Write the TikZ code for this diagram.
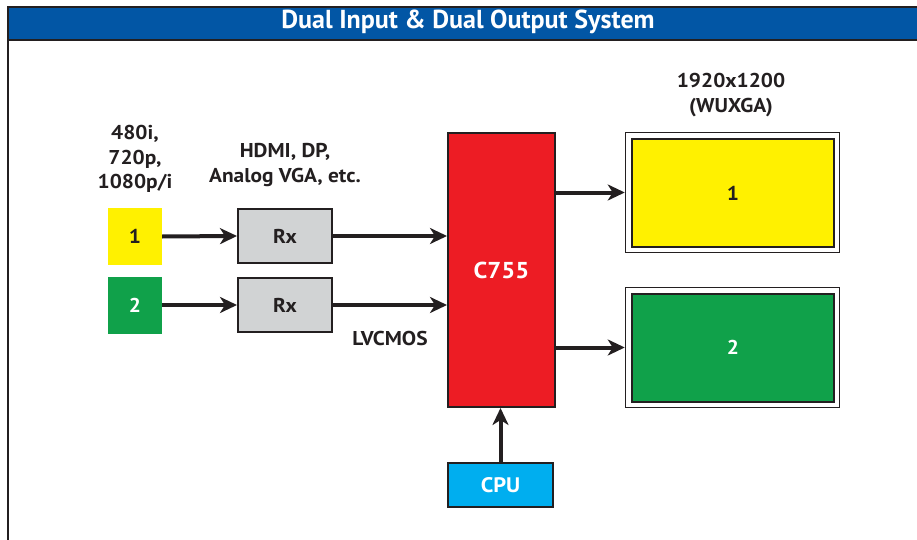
\documentclass[tikz,border=0pt]{standalone}
\usepackage{fontspec}
\setmainfont{PT Sans}
\newfontfamily\widefont[FakeStretch=1.07]{PT Sans}
\usetikzlibrary{arrows.meta}
\definecolor{ink}{HTML}{231F20}
\definecolor{titleblue}{HTML}{0256A5}
\definecolor{chipred}{HTML}{ED1C24}
\definecolor{srcyellow}{HTML}{FFF100}
\definecolor{srcgreen}{HTML}{10A14A}
\definecolor{cpucyan}{HTML}{00AEEF}
\definecolor{rxgray}{HTML}{D1D3D4}
\tikzset{
  lbl/.style={text=ink, font=\widefont\bfseries\fontsize{20}{24.5}\selectfont, align=center, inner sep=0pt},
  srcbox/.style={minimum width=54pt, minimum height=57pt, inner sep=0pt, font=\widefont\bfseries\fontsize{20}{22}\selectfont},
  rxbox/.style={draw=ink, line width=2pt, fill=rxgray, minimum width=94pt, minimum height=54pt, inner sep=0pt, text=ink, font=\widefont\bfseries\fontsize{20}{22}\selectfont},
  monout/.style={draw=ink, line width=1.5pt, fill=white, minimum width=214pt, minimum height=120pt, inner sep=0pt},
  monin/.style={draw=ink, line width=2pt, minimum width=202pt, minimum height=108pt, inner sep=0pt, font=\widefont\bfseries\fontsize{20}{22}\selectfont},
  flow/.style={draw=ink, line width=4pt, -{Stealth[length=17pt, width=16pt, inset=5pt]}},
}
\begin{document}
\begin{tikzpicture}[x=1pt, y=-1pt]
\useasboundingbox (0,0) rectangle (917,540);
\begin{scope}
\clip (0,0) rectangle (917,540);
\fill[titleblue] (8,7) rectangle (940,40);
\draw[ink, line width=2pt] (8,560) -- (8,7) -- (940,7);
\draw[ink, line width=2.5pt] (8,40) -- (940,40);
\end{scope}
\node[text=white, font=\bfseries\fontsize{26}{30}\selectfont, inner sep=0pt] (title) at (468,22) {Dual Input \& Dual Output System};

\node[srcbox, fill=srcyellow, text=ink] (src1) at (135,236.5) {1};
\node[srcbox, fill=srcgreen, text=white] (src2) at (135,305) {2};
\node[lbl] (fmt) at (135,159) {480i,\\720p,\\1080p/i};

\node[rxbox] (rx1) at (285,236) {Rx};
\node[rxbox] (rx2) at (285,305) {Rx};
\node[lbl] (ifc) at (285,165) {HDMI, DP,\\Analog VGA, etc.};

\node[draw=ink, line width=2pt, fill=chipred, minimum width=107pt, minimum height=274pt, inner sep=0pt, text=white, font=\widefont\bfseries\fontsize{23}{26}\selectfont] (chip) at (501.5,270) {C755};
\node[lbl] (bus) at (390,338.5) {LVCMOS};

\node[monout] (mon1o) at (732.5,192.5) {};
\node[monin, fill=srcyellow, text=ink] (mon1) at (733,193) {1};
\node[monout] (mon2o) at (732.5,347.5) {};
\node[monin, fill=srcgreen, text=white] (mon2) at (733,347.5) {2};
\node[lbl] (res) at (731,95) {1920x1200\\(WUXGA)};

\node[draw=ink, line width=2pt, fill=cpucyan, minimum width=105pt, minimum height=44pt, inner sep=0pt, text=white, font=\widefont\bfseries\fontsize{21}{24}\selectfont] (cpu) at (500.5,485) {CPU};

\draw[flow] (src1.east) -- (rx1.west);
\draw[flow] (src2.east) -- (rx2.west);
\draw[flow] (rx1.east) -- (rx1.east -| chip.west);
\draw[flow] (rx2.east) -- (rx2.east -| chip.west);
\draw[flow] (chip.east |- mon1o.west) -- (mon1o.west);
\draw[flow] (chip.east |- mon2o.west) -- (mon2o.west);
\draw[flow] (cpu.north) -- (cpu.north |- chip.south);
\end{tikzpicture}
\end{document}
